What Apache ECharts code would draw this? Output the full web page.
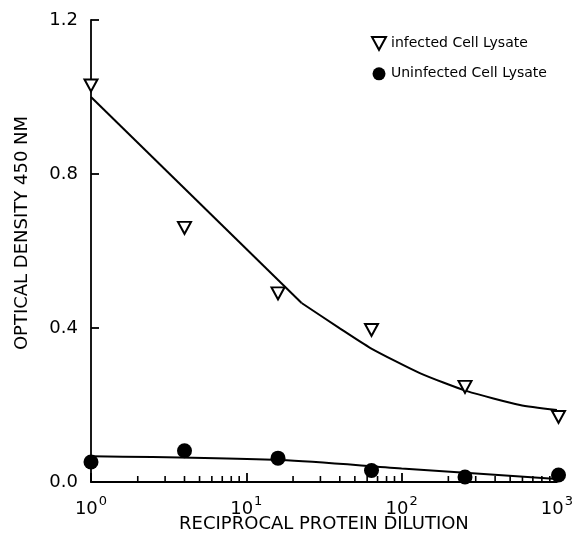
<!DOCTYPE html>
<html><head><meta charset="utf-8">
<script src="https://cdn.jsdelivr.net/npm/echarts@6/dist/echarts.min.js"></script>
<style>html,body{margin:0;padding:0;background:#fff}#c{width:576px;height:548px}</style>
</head><body><div id="c"></div>
<script>
var dilution = [1, 4, 16, 64, 256, 1024];
var infected = [1.03, 0.66, 0.49, 0.395, 0.247, 0.169];
var uninfected = [0.052, 0.081, 0.062, 0.03, 0.013, 0.018];
var fitInfStraightX = [1, 22.7];
var fitInfStraightY = [1.0, 0.465];
var fitInfCurveX = [22.7, 40, 63, 131, 264, 578, 1000];
var fitInfCurveY = [0.465, 0.399, 0.348, 0.283, 0.236, 0.200, 0.187];
var fitUninfX = [1, 16.5, 100, 1000];
var fitUninfY = [0.067, 0.057, 0.035, 0.008];
var minorTickValues = [2,3,4,5,6,7,8,9,20,30,40,50,60,70,80,90,200,300,400,500,600,700,800,900];
var yTicks = [0, 0.4, 0.8, 1.2];

function pairs(xs, ys){ return xs.map(function(x,i){ return [x, ys[i]]; }); }
var FONT = 'DejaVu Sans';
var chart = echarts.init(document.getElementById('c'), null, {renderer:'canvas'});
var triIcon = 'path://M0,0 L12,0 L6,11 Z';
chart.setOption({
  animation: false,
  backgroundColor: '#fff',
  grid: {left: 91, right: 19, top: 20, bottom: 66},
  legend: {
    left: 366, top: 31, orient: 'vertical', itemGap: 16,
    itemWidth: 14, itemHeight: 13,
    textStyle: {fontFamily: FONT, fontSize: 14, color: '#000'},
    data: [
      {name: 'infected Cell Lysate', icon: triIcon},
      {name: 'Uninfected Cell Lysate', icon: 'circle'}
    ]
  },
  xAxis: {
    type: 'log', logBase: 10, min: 1, max: 1000,
    name: 'RECIPROCAL PROTEIN DILUTION', nameLocation: 'middle', nameGap: 33,
    nameMoveOverlap: false,
    nameTextStyle: {fontFamily: FONT, fontSize: 18, color: '#000'},
    axisLine: {lineStyle: {color: '#000', width: 1.8}},
    axisTick: {inside: true, length: 9, lineStyle: {color: '#000', width: 1.8}},
    splitLine: {show: false},
    axisLabel: {
      margin: 13, color: '#000',
      formatter: function(v){ var e = Math.round(Math.log10(v)); return '{b|10}{s|' + e + '}'; },
      rich: {
        b: {fontFamily: FONT, fontSize: 18, color: '#000', verticalAlign: 'bottom'},
        s: {fontFamily: FONT, fontSize: 13, color: '#000', verticalAlign: 'top', padding: [0,0,10,1]}
      }
    }
  },
  yAxis: {
    type: 'value', min: 0, max: 1.2, interval: 0.4,
    name: 'OPTICAL DENSITY 450 NM', nameLocation: 'middle', nameGap: 60,
    nameMoveOverlap: false,
    nameTextStyle: {fontFamily: FONT, fontSize: 18, color: '#000', padding: [0,0,0,36]},
    axisLine: {show: true, lineStyle: {color: '#000', width: 1.8}},
    axisTick: {show: true, inside: true, length: 8, lineStyle: {color: '#000', width: 1.8}},
    splitLine: {show: false},
    axisLabel: {margin: 13, color: '#000', fontFamily: FONT, fontSize: 18,
      formatter: function(v){ return v.toFixed(1); }}
  },
  series: [
    {type: 'scatter', name: 'minor', data: minorTickValues.map(function(v){return [v, 0];}),
      symbol: 'rect', symbolSize: [1.6, 6], symbolOffset: [0, -3],
      itemStyle: {color: '#000', opacity: 1}, silent: true, z: 1},
    {type: 'line', data: pairs(fitInfStraightX, fitInfStraightY), showSymbol: false,
      lineStyle: {color: '#000', width: 2}},
    {type: 'line', data: pairs(fitInfCurveX, fitInfCurveY), showSymbol: false, smooth: 0.2,
      lineStyle: {color: '#000', width: 2}},
    {type: 'line', data: pairs(fitUninfX, fitUninfY), showSymbol: false, smooth: 0.3,
      lineStyle: {color: '#000', width: 2}},
    {type: 'scatter', name: 'infected Cell Lysate', data: pairs(dilution, infected),
      symbol: triIcon, symbolSize: [13, 12], clip: false,
      itemStyle: {color: '#fff', borderColor: '#000', borderWidth: 2, opacity: 1}, z: 5},
    {type: 'scatter', name: 'Uninfected Cell Lysate', data: pairs(dilution, uninfected),
      symbol: 'circle', symbolSize: 15, clip: false,
      itemStyle: {color: '#000', opacity: 1}, z: 5}
  ]
});
</script></body></html>
